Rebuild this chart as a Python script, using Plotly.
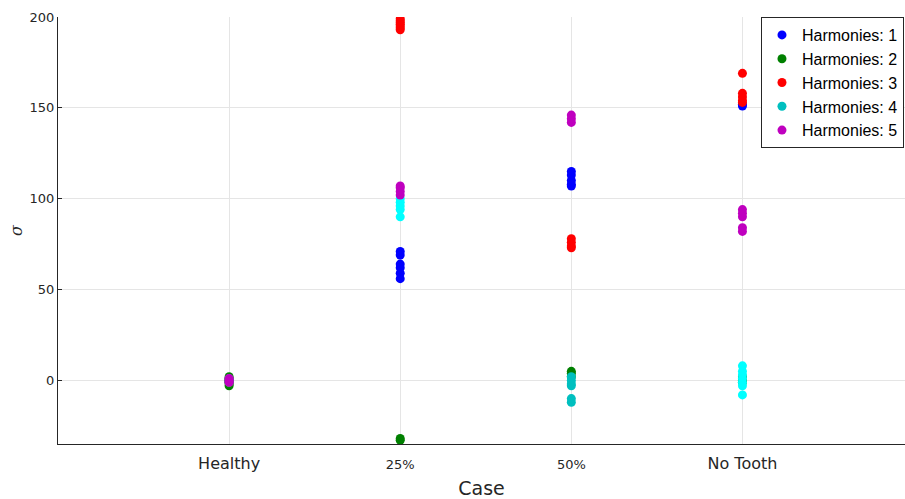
import plotly.graph_objects as go

categories = ["Healthy", "25%", "50%", "No Tooth"]
cat_pos = [1, 2, 3, 4]
series_names = ["Harmonies: 1", "Harmonies: 2", "Harmonies: 3", "Harmonies: 4", "Harmonies: 5"]

# values per series per category
h1 = {"Healthy": [1, 0, -1], "25%": [71, 69, 64, 62, 59, 56], "50%": [115, 113, 110, 108, 107], "No Tooth": [152, 151]}
h2 = {"Healthy": [2, 0, -2, -3], "25%": [-32, -33], "50%": [5, 4, 2], "No Tooth": [2, 0, -1]}
h3 = {"Healthy": [1, 0, -1], "25%": [199, 198, 197, 196, 195, 194, 193], "50%": [78, 76, 74, 73], "No Tooth": [169, 158, 156, 154, 153]}
h4 = {"Healthy": [1, 0, -1], "25%": [100, 98, 96, 94, 90], "50%": [2, 0, -2, -3, -10, -12], "No Tooth": [8, 5, 3, 1, -1, -3, -8]}
h5 = {"Healthy": [1, 0, -1], "25%": [107, 106, 104, 102], "50%": [146, 144, 142], "No Tooth": [94, 92, 90, 84, 82]}
series = [h1, h2, h3, h4, h5]

colors = ["#0000FF", "#008000", "#FF0000", "#00BFBF", "#BF00BF"]
bright_cyan = "#00FFFF"

fig = go.Figure()
for name, data, col in zip(series_names, series, colors):
    xs, ys, cs = [], [], []
    for cat, pos in zip(categories, cat_pos):
        for v in data[cat]:
            xs.append(pos)
            ys.append(v)
            if col == "#00BFBF" and cat in ("25%", "No Tooth"):
                cs.append(bright_cyan)
            else:
                cs.append(col)
    fig.add_trace(go.Scatter(
        x=xs, y=ys, mode="markers", name=name,
        marker=dict(color=cs, size=9, line=dict(width=0)),
    ))

ticktext = []
for c in categories:
    if "%" in c:
        ticktext.append('<span style="font-size:13px">' + c + '</span>')
    else:
        ticktext.append(c)

fig.update_layout(
    width=905, height=499,
    margin=dict(l=58, r=0, t=17, b=55, autoexpand=False),
    paper_bgcolor="white", plot_bgcolor="white",
    font=dict(family="DejaVu Sans", color="#262626"),
    showlegend=True,
    legend=dict(
        x=0.9988, y=1.0, xanchor="right", yanchor="top",
        bgcolor="white", bordercolor="#262626", borderwidth=1,
        font=dict(family="Liberation Sans", size=16, color="black"),
        tracegroupgap=0, itemwidth=30,
    ),
    xaxis=dict(
        range=[0, 4.95], tickvals=cat_pos, ticktext=ticktext,
        showgrid=True, gridcolor="#E5E5E5", gridwidth=1,
        zeroline=False, showline=True, linecolor="#262626", linewidth=1,
        ticks="", tickfont=dict(family="DejaVu Sans", size=16, color="#262626"),
        ticklabelstandoff=5,
        automargin=False,
        title=dict(text="Case", font=dict(family="DejaVu Sans", size=19, color="#262626"), standoff=10),
    ),
    yaxis=dict(
        range=[-35, 200], tickvals=[0, 50, 100, 150, 200],
        showgrid=True, gridcolor="#E5E5E5", gridwidth=1,
        zeroline=False, showline=True, linecolor="#262626", linewidth=1,
        ticks="inside", ticklen=4, tickcolor="#262626",
        tickfont=dict(family="DejaVu Sans", size=13, color="#262626"),
        automargin=False,
        title=dict(text="<i>σ</i>", font=dict(family="DejaVu Serif", size=16, color="#262626"), standoff=2),
    ),
)

fig.write_html(
    "out.html",
    config={"displayModeBar": False},
    post_script="document.body.style.margin='0';document.body.style.overflow='hidden';",
)
